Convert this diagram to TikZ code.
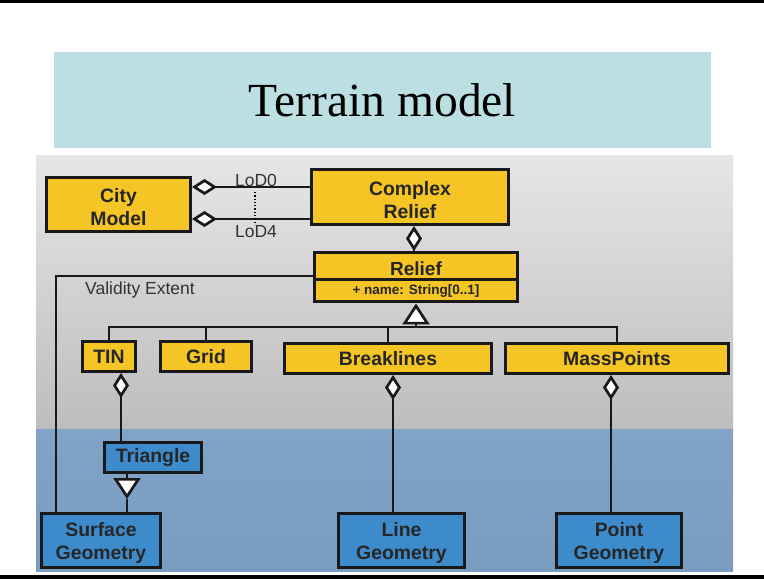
\documentclass[tikz,border=0pt]{standalone}
\usepackage{fontspec}
\setmainfont{Liberation Serif}
\newfontfamily\arial{Liberation Sans}
\usetikzlibrary{arrows.meta}
\definecolor{ybox}{HTML}{F4C524}
\definecolor{bbox}{HTML}{3D8BCB}
\definecolor{txt}{HTML}{262626}
\definecolor{lbltxt}{HTML}{333333}
\definecolor{titlebg}{HTML}{BBDFE2}
\definecolor{graytop}{HTML}{E6E6E6}
\definecolor{graybot}{HTML}{BDBDBD}
\definecolor{bluetop}{HTML}{82A3C8}
\definecolor{bluebot}{HTML}{7B9CC1}
% invisible strut that lowers the text block slightly inside its box
\newcommand\strutlow[1]{\rule{0pt}{#1}}
\begin{document}
\begin{tikzpicture}[x=1pt,y=-1pt,
  box/.style={draw=black!90, line width=3pt, inner sep=0pt, align=center,
    text=txt, font=\arial\bfseries\fontsize{19.4}{23}\selectfont},
  ybx/.style={box, fill=ybox},
  bbx/.style={box, fill=bbox},
  conn/.style={line width=2.7pt, draw=black!90},
  agg/.style={conn, arrows={Diamond[fill=white,length=25pt,width=16pt]-}},
  gen/.style={conn, arrows={-Triangle[fill=white,length=21pt,width=27pt]}},
  lbl/.style={text=lbltxt, inner sep=0pt, font=\arial\fontsize{17.5}{20}\selectfont}
]
\useasboundingbox (0,0) rectangle (764,580);
% page rules
\fill[black] (0,0) rectangle (764,3);
\fill[black] (0,575) rectangle (764,579);
% title band
\fill[titlebg] (54,52) rectangle (711,148);
\node[font=\fontsize{47.5}{56}\selectfont, anchor=base] (title) at (382.5,117) {Terrain model};
% backgrounds
\shade[top color=graytop, bottom color=graybot] (36,156) rectangle (733,429);
\shade[top color=bluetop, bottom color=bluebot] (36,429) rectangle (733,571);

% classes
\node[ybx, minimum width=144pt, minimum height=54pt] (city) at (118.5,204.5) {\strutlow{20pt}City\\Model};
\node[ybx, minimum width=197pt, minimum height=55pt] (complex) at (410,197) {\strutlow{20pt}Complex\\Relief};
\node[ybx, minimum width=203pt, minimum height=27pt, font=\arial\bfseries\fontsize{19}{23}\selectfont] (relief) at (416,266.5) {\strutlow{19pt}Relief};
\node[ybx, minimum width=203pt, minimum height=22pt, font=\arial\bfseries\fontsize{13.5}{15}\selectfont] (reliefa) at (416,291) {+ name: String[0..1]};
\node[ybx, minimum width=53pt, minimum height=30pt] (tin) at (109,356.5) {TIN};
\node[ybx, minimum width=91pt, minimum height=30pt] (grid) at (206,356.5) {Grid};
\node[ybx, minimum width=207pt, minimum height=30pt] (brk) at (388,358.5) {Breaklines};
\node[ybx, minimum width=223pt, minimum height=30pt] (mass) at (617,358.5) {MassPoints};
\node[bbx, minimum width=97pt, minimum height=30pt] (tri) at (153,457.5) {Triangle};
\node[bbx, minimum width=119pt, minimum height=54pt] (surf) at (101,540.5) {\strutlow{20pt}Surface\\Geometry};
\node[bbx, minimum width=126pt, minimum height=54pt] (lineg) at (401.5,540.5) {\strutlow{20pt}Line\\Geometry};
\node[bbx, minimum width=125pt, minimum height=54pt] (pointg) at (619,540.5) {\strutlow{20pt}Point\\Geometry};

% helper coordinates
\coordinate (y0) at (0,187);
\coordinate (y4) at (0,219);
\coordinate (busy) at (0,327);
\coordinate (vy) at (0,276);
\coordinate (vx) at (56,0);
\coordinate (rx) at (414,0);
\coordinate (tx) at (121,0);
\coordinate (gx) at (127,0);
\coordinate (gmid) at (127,499);
\coordinate (bx) at (393,0);
\coordinate (mx) at (611,0);
\coordinate (dtop) at (255,192);
\coordinate (dbot) at (255,225);

% CityModel -- ComplexRelief (LoD0 .. LoD4)
\draw[agg] (city.east |- y0) -- (complex.west |- y0);
\draw[agg] (city.east |- y4) -- (complex.west |- y4);
\draw[line width=1.3pt, dotted] (dtop) -- (dbot);
\node[lbl] (lod0) at (256,180) {LoD0};
\node[lbl] (lod4) at (256,232) {LoD4};

% ComplexRelief -- Relief
\draw[agg] (complex.south -| rx) -- (relief.north -| rx);

% validity extent
\draw[conn] (relief.west |- vy) -| (vx |- surf.north);
\node[lbl, anchor=west] (valid) at (85,290) {Validity Extent};

% generalisation of Relief
\draw[conn] (tin.north) |- (reliefa.south |- busy) -| (mass.north);
\draw[conn] (grid.north) -- (grid.north |- busy);
\draw[conn] (brk.north) -- (brk.north |- busy);
\draw[gen] (reliefa.south |- busy) -- (reliefa.south);

% aggregations to geometry
\draw[agg] (tin.south -| tx) -- (tri.north -| tx);
\draw[agg] (brk.south -| bx) -- (lineg.north -| bx);
\draw[agg] (mass.south -| mx) -- (pointg.north -| mx);

% Triangle -- SurfaceGeometry
\draw[gen] (tri.south -| gx) -- (gmid);
\draw[conn] (gmid) -- (surf.north -| gx);
\end{tikzpicture}
\end{document}
